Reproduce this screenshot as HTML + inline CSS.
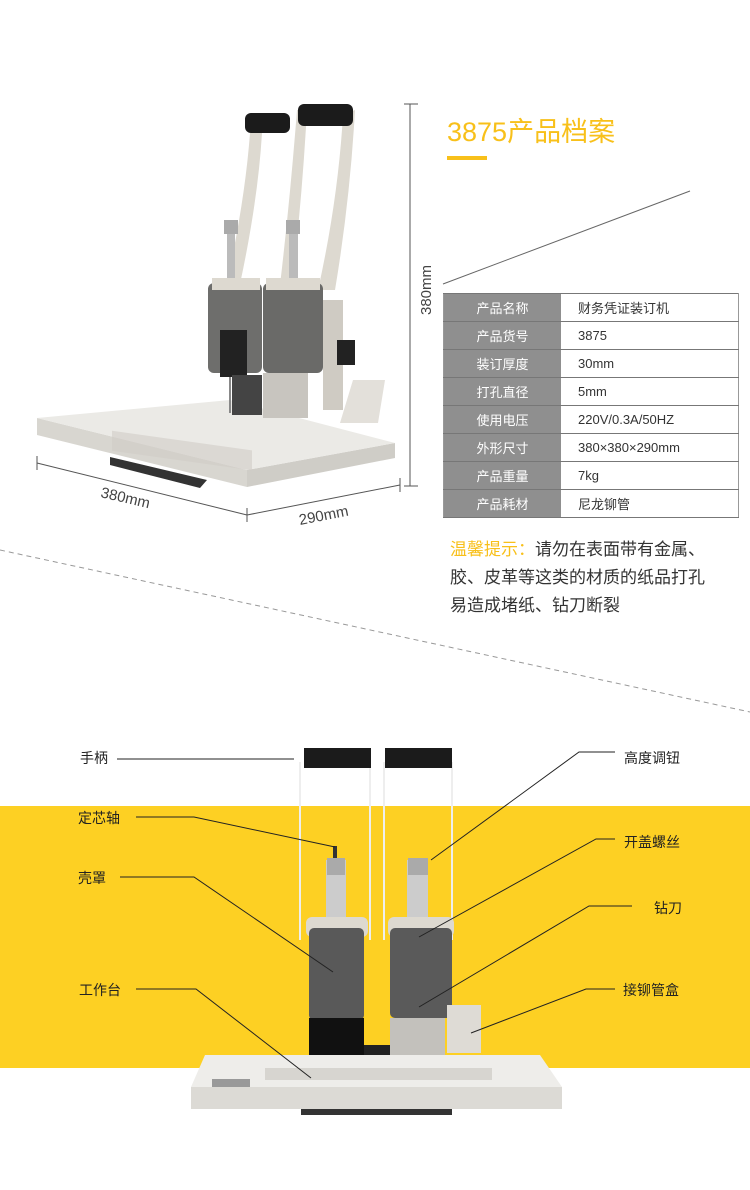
<!DOCTYPE html>
<html><head><meta charset="utf-8"><style>
body{margin:0;width:750px;height:1190px;background:#fff;overflow:hidden;position:relative;font-family:"Liberation Sans","Noto Sans CJK SC",sans-serif}
.abs{position:absolute}
table{border-collapse:collapse}
td{height:27px;font-size:13px;border-bottom:1.5px solid #777;padding:0}
td.l{background:#8f8f8f;color:#fff;width:117px;text-align:center}
td.r{color:#333;padding-left:17px;width:160px}
.lbl{position:absolute;font-size:14px;color:#222}
</style></head><body>
<svg class="abs" style="left:0;top:0" width="750" height="1190">
<rect x="0" y="806" width="750" height="262" fill="#fdd023"/>
<!-- dashed diagonal -->
<line x1="0" y1="550" x2="750" y2="712" stroke="#999" stroke-width="1" stroke-dasharray="5,4"/>
<line x1="443" y1="284" x2="690" y2="191" stroke="#666" stroke-width="1"/>
<!-- vertical dim -->
<line x1="410" y1="104" x2="410" y2="486" stroke="#555"/>
<line x1="404" y1="104" x2="418" y2="104" stroke="#555"/>
<line x1="404" y1="486" x2="418" y2="486" stroke="#555"/>
<text x="0" y="0" font-size="15" fill="#444" transform="translate(431,315) rotate(-90)" font-family="Liberation Sans">380mm</text>
<!-- base dims -->
<line x1="37" y1="463" x2="247" y2="515" stroke="#555"/>
<line x1="247" y1="515" x2="400" y2="485" stroke="#555"/>
<line x1="37" y1="456" x2="37" y2="470" stroke="#555"/>
<line x1="247" y1="508" x2="247" y2="522" stroke="#555"/>
<line x1="400" y1="478" x2="400" y2="492" stroke="#555"/>
<text transform="translate(100,497) rotate(13)" font-size="15" fill="#444">380mm</text>
<text transform="translate(300,525) rotate(-11)" font-size="15" fill="#444">290mm</text>
<!-- top machine -->
<polygon points="110,457 207,480 200,488 110,465" fill="#333"/>
<polygon points="37,418 247,470 247,487 37,435" fill="#d8d6d0"/>
<polygon points="247,470 395,443 395,458 247,487" fill="#cfcdc7"/>
<polygon points="37,418 230,400 395,443 247,470" fill="#ebeae6"/>
<rect x="112" y="415" width="140" height="20" fill="#d0ccc6" transform="skewY(8)" opacity="0.6"/>
<path d="M250,133 Q245,200 227,282 L240,284 Q258,200 262,133Z" fill="#ddd9d0"/>
<path d="M297,110 Q290,200 280,285 L292,285 Q302,200 307,110Z" fill="#ddd9d0"/>
<path d="M355,110 Q350,200 335,290 L318,290 Q338,200 343,115Z" fill="#ddd9d0"/>
<rect x="245" y="113" width="45" height="20" rx="6" fill="#1b1b1b"/>
<rect x="298" y="104" width="55" height="22" rx="6" fill="#1b1b1b"/>
<rect x="227" y="223" width="8" height="55" fill="#bbb"/>
<rect x="289" y="223" width="9" height="55" fill="#bbb"/>
<rect x="224" y="220" width="14" height="14" fill="#aaa"/>
<rect x="286" y="220" width="14" height="14" fill="#aaa"/>
<rect x="208" y="283" width="54" height="90" rx="6" fill="#6e6e6c"/>
<rect x="263" y="283" width="60" height="90" rx="6" fill="#6a6a68"/>
<rect x="212" y="278" width="48" height="12" fill="#ddd9d0"/>
<rect x="266" y="278" width="54" height="12" fill="#ddd9d0"/>
<rect x="220" y="330" width="27" height="47" fill="#222"/>
<rect x="229" y="377" width="2" height="36" fill="#888"/>
<rect x="232" y="375" width="30" height="40" fill="#444"/>
<rect x="263" y="373" width="45" height="45" fill="#c8c5bf"/>
<rect x="323" y="300" width="20" height="110" fill="#cfcbc3"/>
<rect x="337" y="340" width="18" height="25" fill="#222"/>
<polygon points="353,380 385,380 378,423 340,423" fill="#e3e0da"/>
<!-- title -->
<text x="447" y="141" font-size="27" fill="#f8c01a">3875产品档案</text>
<rect x="447" y="156" width="40" height="4" fill="#f8c01a"/>
<!-- bottom machine -->
<rect x="301" y="1105" width="151" height="10" fill="#333"/>
<polygon points="205,1055 540,1055 562,1087 191,1087" fill="#eeedea"/>
<rect x="191" y="1087" width="371" height="22" fill="#dcdad5"/>
<rect x="265" y="1068" width="227" height="12" fill="#cdcac4" opacity="0.7"/>
<rect x="212" y="1079" width="38" height="8" fill="#999"/>
<line x1="300" y1="762" x2="300" y2="940" stroke="#eee" stroke-width="2"/>
<line x1="370" y1="762" x2="370" y2="940" stroke="#eee" stroke-width="2"/>
<line x1="384" y1="762" x2="384" y2="940" stroke="#eee" stroke-width="2"/>
<line x1="452" y1="762" x2="452" y2="940" stroke="#eee" stroke-width="2"/>
<rect x="304" y="748" width="67" height="20" fill="#1b1b1b"/>
<rect x="385" y="748" width="67" height="20" fill="#1b1b1b"/>
<rect x="326" y="860" width="20" height="57" fill="#ccc"/>
<rect x="407" y="860" width="21" height="57" fill="#ccc"/>
<rect x="327" y="858" width="18" height="17" fill="#aaa"/>
<rect x="408" y="858" width="20" height="17" fill="#aaa"/>
<rect x="333" y="846" width="4" height="12" fill="#333"/>
<rect x="306" y="917" width="62" height="20" rx="6" fill="#ddd9d0"/>
<rect x="388" y="917" width="66" height="20" rx="6" fill="#ddd9d0"/>
<rect x="309" y="928" width="55" height="92" rx="5" fill="#595959"/>
<rect x="390" y="928" width="62" height="90" rx="5" fill="#5a5a5a"/>
<rect x="309" y="1018" width="55" height="37" fill="#111"/>
<rect x="390" y="1018" width="55" height="37" fill="#c3c1bc"/>
<rect x="364" y="1045" width="26" height="10" fill="#222"/>
<polygon points="447,1005 481,1005 481,1053 447,1053" fill="#dedbd5"/>
<!-- leader lines -->
<g stroke="#222" stroke-width="1" fill="none">
<polyline points="117,759 294,759"/>
<polyline points="136,817 194,817 335,847"/>
<polyline points="120,877 194,877 333,972"/>
<polyline points="136,989 196,989 311,1078"/>
<polyline points="615,752 579,752 431,860"/>
<polyline points="615,839 596,839 419,937"/>
<polyline points="632,906 589,906 419,1007"/>
<polyline points="615,989 586,989 471,1033"/>
</g>
</svg>
<table class="abs" style="left:443px;top:293px;border-top:1.5px solid #777;border-left:1px solid #999;border-right:1px solid #999">
<tr><td class="l">产品名称</td><td class="r">财务凭证装订机</td></tr>
<tr><td class="l">产品货号</td><td class="r">3875</td></tr>
<tr><td class="l">装订厚度</td><td class="r">30mm</td></tr>
<tr><td class="l">打孔直径</td><td class="r">5mm</td></tr>
<tr><td class="l">使用电压</td><td class="r">220V/0.3A/50HZ</td></tr>
<tr><td class="l">外形尺寸</td><td class="r">380×380×290mm</td></tr>
<tr><td class="l">产品重量</td><td class="r">7kg</td></tr>
<tr><td class="l">产品耗材</td><td class="r">尼龙铆管</td></tr>
</table>
<div class="abs" style="left:450px;top:536px;font-size:17px;line-height:28px;color:#333;width:300px"><span style="color:#f8c01a">温馨提示：</span>请勿在表面带有金属、<br>胶、皮革等这类的材质的纸品打孔<br>易造成堵纸、钻刀断裂</div>
<div class="lbl" style="left:80px;top:748px">手柄</div>
<div class="lbl" style="left:78px;top:808px">定芯轴</div>
<div class="lbl" style="left:78px;top:868px">壳罩</div>
<div class="lbl" style="left:79px;top:980px">工作台</div>
<div class="lbl" style="left:624px;top:748px">高度调钮</div>
<div class="lbl" style="left:624px;top:832px">开盖螺丝</div>
<div class="lbl" style="left:654px;top:898px">钻刀</div>
<div class="lbl" style="left:623px;top:980px">接铆管盒</div>
</body></html>
